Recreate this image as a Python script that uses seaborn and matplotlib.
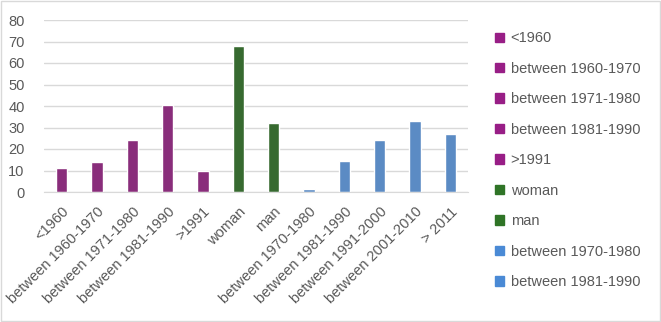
import matplotlib
matplotlib.use("Agg")
import matplotlib.pyplot as plt
import seaborn as sns
import pandas as pd
from matplotlib.patches import Patch, Rectangle

categories = ["<1960", "between 1960-1970", "between 1971-1980", "between 1981-1990", ">1991",
              "woman", "man",
              "between 1970-1980", "between 1981-1990", "between 1991-2000", "between 2001-2010", "> 2011"]
values = [11, 14, 24, 40.3, 10, 67.7, 32, 1.3, 14.3, 24, 33, 27.2]
groups = ["birth"] * 5 + ["gender"] * 2 + ["work"] * 5
group_colors = {"birth": "#981E86", "gender": "#2F7426", "work": "#4A8AD5"}
legend_labels = ["<1960", "between 1960-1970", "between 1971-1980", "between 1981-1990", ">1991",
                 "woman", "man", "between 1970-1980", "between 1981-1990"]

df = pd.DataFrame({"pos": range(len(categories)), "value": values, "group": groups})

sns.set_style("white")
plt.rcParams["font.family"] = ["Liberation Sans", "DejaVu Sans"]
text_color = "#595959"

fig = plt.figure(figsize=(6.61, 3.22), dpi=100)
ax = fig.add_axes([44 / 661, 1 - 192 / 322, (468 - 44) / 661, 172 / 322])

sns.barplot(data=df, x="pos", y="value", hue="group", palette=group_colors,
            dodge=False, width=0.33, legend=False, ax=ax)

ax.set_ylim(0, 80)
ax.set_yticks(range(0, 81, 10))
ax.set_xlim(-0.5, len(categories) - 0.5)
ax.grid(axis="y", color="#D9D9D9", linewidth=1)
ax.set_axisbelow(True)
for s in ["top", "right", "left"]:
    ax.spines[s].set_visible(False)
ax.spines["bottom"].set_color("#D9D9D9")
ax.set_xlabel("")
ax.set_ylabel("")
ax.set_xticks(range(len(categories)))
ax.set_xticklabels(categories, rotation=45, ha="right", rotation_mode="anchor")
ax.tick_params(axis="both", length=0, labelsize=10.5, colors=text_color)
ax.tick_params(axis="y", pad=14)
ax.tick_params(axis="x", pad=9)

handles = [Patch(color=group_colors[g]) for g in groups[:len(legend_labels)]]
fig.legend(handles, legend_labels, loc="upper left", bbox_to_anchor=(488 / 661, 1 - 24 / 322),
           frameon=False, fontsize=10.5, labelcolor=text_color, handlelength=0.6, handleheight=0.6,
           handletextpad=0.45, labelspacing=1.13, borderpad=0)

fig.patches.append(Rectangle((0.001, 0.002), 0.997, 0.995, transform=fig.transFigure,
                             fill=False, edgecolor="#D9D9D9", linewidth=1))

fig.savefig("out.png", dpi=100)
